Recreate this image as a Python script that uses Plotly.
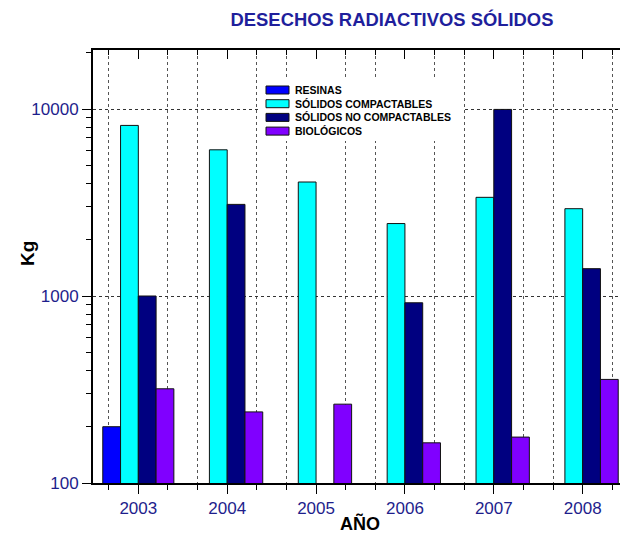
import plotly.graph_objects as go

years = [2003, 2004, 2005, 2006, 2007, 2008]
series_names = ["RESINAS", "SÓLIDOS COMPACTABLES", "SÓLIDOS NO COMPACTABLES", "BIOLÓGICOS"]
resinas = [200, None, None, None, None, None]
solidos_compactables = [8170, 6050, 4070, 2440, 3370, 2930]
solidos_no_compactables = [1000, 3090, None, 920, 9950, 1400]
biologicos = [319, 240, 264, 164, 176, 358]
colors = ["#0000ff", "#00ffff", "#000080", "#8000ff"]
y_tick_vals = [100, 1000, 10000]
y_tick_text = ["100", "1000", "10000"]

W, H = 620, 539
ML, MR, MT, MB = 93, 0, 50, 56
PW, PH = W - ML - MR, H - MT - MB

NAVY_TXT = "#1e1e8c"
FONT = "Liberation Sans, Arial, sans-serif"

fig = go.Figure()
for name, vals, col in zip(series_names,
                           [resinas, solidos_compactables, solidos_no_compactables, biologicos],
                           colors):
    fig.add_trace(go.Bar(x=years, y=vals, name=name,
                         marker=dict(color=col, line=dict(color="#111111", width=1)),
                         showlegend=False))

# helper trace for the top tick axis
fig.add_trace(go.Scatter(x=years, y=[None] * len(years), xaxis="x2", showlegend=False, hoverinfo="skip"))

x_range = [2002.49, 2008.42]
minor_x = sorted(set([y - 1 / 3 for y in years] + [y + 1 / 3 for y in years]))
minor_y = [k * 10 ** e for e in (2, 3, 4) for k in range(2, 10) if k * 10 ** e < 21000]

fig.update_layout(
    width=W, height=H, autosize=False,
    margin=dict(l=ML, r=MR, t=MT, b=MB, pad=0),
    paper_bgcolor="white", plot_bgcolor="white",
    barmode="group", bargap=0.2, bargroupgap=0,
    font=dict(family=FONT, color=NAVY_TXT),
    title=dict(text="DESECHOS RADIACTIVOS SÓLIDOS", x=392 / W, xref="container", xanchor="center",
               y=1 - 20 / H, yref="container", yanchor="middle",
               font=dict(family=FONT, size=18.4, color="#1f1f9c", weight="bold")),
    xaxis=dict(
        type="linear", range=x_range, tickvals=years, ticktext=[str(y) for y in years],
        ticks="outside", ticklen=9, tickwidth=1, tickcolor="black",
        showline=True, linewidth=2, linecolor="black", mirror=True,
        showgrid=False, zeroline=False,
        tickfont=dict(family=FONT, size=17, color=NAVY_TXT),
        minor=dict(tickvals=minor_x, ticks="outside", ticklen=5, tickcolor="black",
                   showgrid=True, gridcolor="#555555", griddash="dot", gridwidth=1),
    ),
    xaxis2=dict(
        type="linear", range=x_range, overlaying="x", side="top", anchor="y",
        tickvals=years, ticks="inside", ticklen=9, tickwidth=1, tickcolor="black",
        showticklabels=False, showline=False, showgrid=False, zeroline=False,
        minor=dict(tickvals=minor_x, ticks="inside", ticklen=5, tickcolor="black", showgrid=False),
    ),
    yaxis=dict(
        type="log", range=[2, 2 + PH / 187.0],
        tickvals=y_tick_vals, ticktext=y_tick_text,
        ticks="outside", ticklen=9, tickwidth=1, tickcolor="black",
        showline=True, linewidth=2, linecolor="black",
        showgrid=True, gridcolor="#333333", griddash="dot", gridwidth=1,
        zeroline=False,
        tickfont=dict(family=FONT, size=17, color=NAVY_TXT),
        minor=dict(tickvals=minor_y, ticks="outside", ticklen=5, tickcolor="black", showgrid=False),
    ),
)


def px_x(px):
    return (px - ML) / PW


def px_y(py):
    return (H - MB - py) / PH


# axis titles
fig.add_annotation(text="Kg", x=px_x(27), y=px_y(254), xref="paper", yref="paper", showarrow=False,
                   textangle=-90, font=dict(family=FONT, size=19, color="black", weight="bold"),
                   xanchor="center", yanchor="middle")
fig.add_annotation(text="AÑO", x=px_x(360), y=px_y(523), xref="paper", yref="paper", showarrow=False,
                   font=dict(family=FONT, size=18, color="black", weight="bold"),
                   xanchor="center", yanchor="middle")

# legend box (custom, drawn from series names and colours)
fig.add_shape(type="rect", xref="paper", yref="paper", x0=px_x(258), x1=px_x(463), y0=px_y(141), y1=px_y(80),
              fillcolor="white", line=dict(width=0), layer="above")
for i, (name, col) in enumerate(zip(series_names, colors)):
    cy = 90 + i * 13.7
    fig.add_shape(type="rect", xref="paper", yref="paper", x0=px_x(266), x1=px_x(289),
                  y0=px_y(cy + 4), y1=px_y(cy - 4), fillcolor=col, line=dict(color="#111111", width=1),
                  layer="above")
    fig.add_annotation(text=name, x=px_x(293), y=px_y(cy), xref="paper", yref="paper", showarrow=False,
                       xanchor="left", yanchor="middle",
                       font=dict(family=FONT, size=10.5, color="black", weight="bold"))

fig.write_html("out.html", config={"displayModeBar": False},
               post_script="document.body.style.margin='0';document.body.style.overflow='hidden';")
